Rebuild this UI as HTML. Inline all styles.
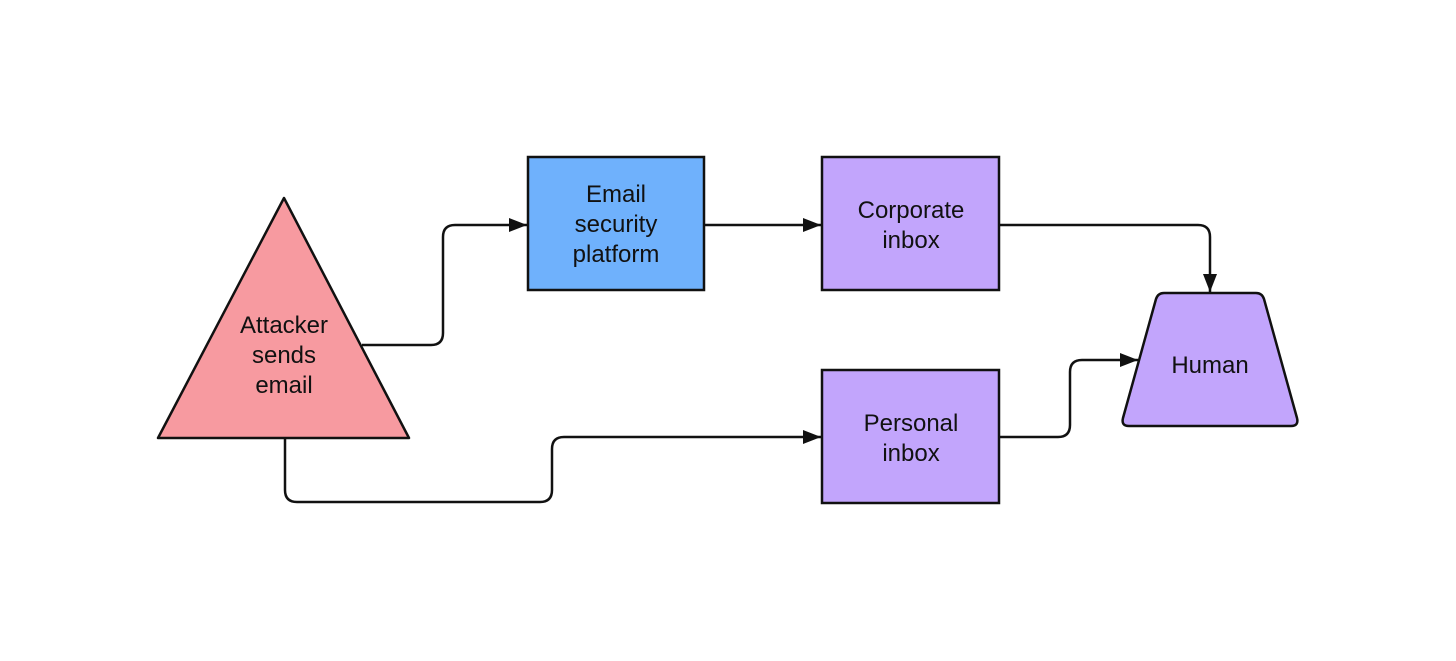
<!DOCTYPE html>
<html><head><style>html,body{margin:0;padding:0;background:#fff;}svg{display:block}</style></head><body>
<svg width="1456" height="661" viewBox="0 0 1456 661" xmlns="http://www.w3.org/2000/svg" font-family="Liberation Sans, sans-serif" font-size="24">
<defs><marker id="a" markerWidth="18" markerHeight="14" refX="18" refY="7" orient="auto" markerUnits="userSpaceOnUse" viewBox="0 0 18 14"><path d="M0,0 L18,7 L0,14 z" fill="#111"/></marker></defs>
<g fill="none" stroke="#111" stroke-width="2.5">
<path d="M362,345 H431 Q443,345 443,333 V237 Q443,225 455,225 H527" marker-end="url(#a)"/>
<path d="M705,225 H821" marker-end="url(#a)"/>
<path d="M1000,225 H1198 Q1210,225 1210,237 V292" marker-end="url(#a)"/>
<path d="M285,438 V490 Q285,502 297,502 H540 Q552,502 552,490 V449 Q552,437 564,437 H821" marker-end="url(#a)"/>
<path d="M1000,437 H1058 Q1070,437 1070,425 V372 Q1070,360 1082,360 H1138" marker-end="url(#a)"/>
</g>
<polygon points="284,198 409,438 158,438" fill="#f79aa0" stroke="#111" stroke-width="2.5" stroke-linejoin="round"/>
<rect x="528" y="157" width="176" height="133" fill="#6fb1fc" stroke="#111" stroke-width="2.5"/>
<rect x="822" y="157" width="177" height="133" fill="#c2a5fc" stroke="#111" stroke-width="2.5"/>
<rect x="822" y="370" width="177" height="133" fill="#c2a5fc" stroke="#111" stroke-width="2.5"/>
<path d="M1164,293 H1256 Q1262,293 1264,299 L1297,418 Q1299,426 1291,426 H1129 Q1121,426 1123,418 L1156,299 Q1158,293 1164,293 z" fill="#c2a5fc" stroke="#111" stroke-width="2.5"/>
<g text-anchor="middle" fill="#111">
<text x="284" y="333">Attacker</text><text x="284" y="363">sends</text><text x="284" y="393">email</text>
<text x="616" y="202">Email</text><text x="616" y="232">security</text><text x="616" y="262">platform</text>
<text x="911" y="218">Corporate</text><text x="911" y="248">inbox</text>
<text x="911" y="431">Personal</text><text x="911" y="461">inbox</text>
<text x="1210" y="373">Human</text>
</g>
</svg>
</body></html>
